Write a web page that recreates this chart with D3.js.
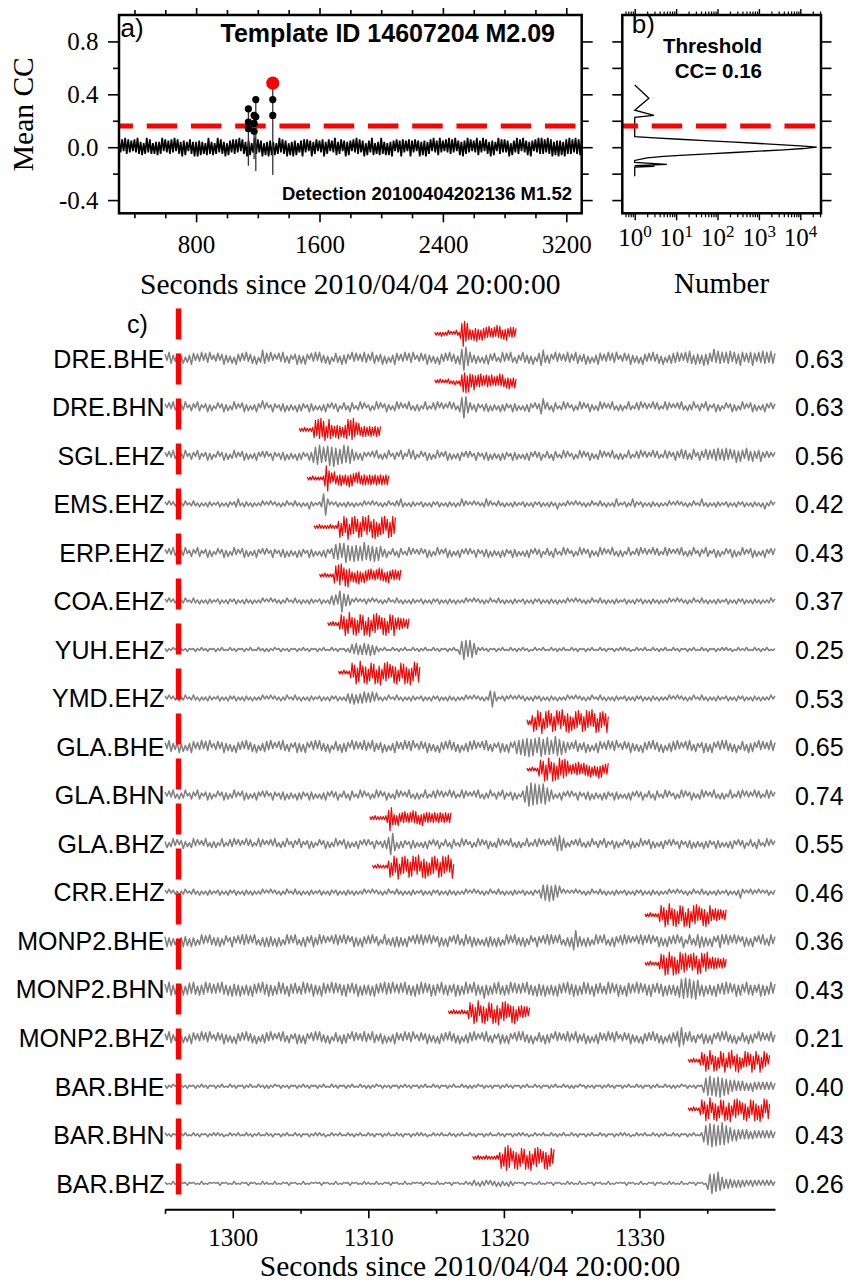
<!DOCTYPE html>
<html>
<head>
<meta charset="UTF-8">
<title>Template match detection</title>
<script src="https://d3js.org/d3.v7.min.js"></script>
<style>
  body { margin: 0; background: #fff; }
  .serif { font-family: "Liberation Serif", "Times New Roman", serif; }
  .sans { font-family: "Liberation Sans", Arial, sans-serif; }
</style>
</head>
<body>
<script>
// ---- panel a: mean CC through the hour (one amplitude digit per 10 s, sign alternates)
var ccStart = 300, ccStep = 10;
var ccNoise = ["5463756453647546357465354","6457364556473654756436547","4756453675463574654736546",
  "5647365475634756457364756","4635746557364756345764635","7456354674563547645635746",
  "5364756457365476354675463","6475364576453675463574657","4563745674536475647356475",
  "5746354765473654756437564","6457365475637456475364757","5647567465756476575647566","5"].join("");
var stemTime = [1139, 1176, 1187, 1297];
var stemHigh = [0.29, 0.24, 0.36, 0.485];
var stemLow = [-0.14, -0.09, -0.18, -0.21];
var dotTime = [1139, 1139, 1139, 1176, 1176, 1176, 1187, 1187, 1297, 1297];
var dotCC = [0.29, 0.19, 0.14, 0.24, 0.18, 0.12, 0.36, 0.23, 0.36, 0.24];
var detectTime = 1297, detectCC = 0.485;
var threshold = 0.16;
var xTicksA = [800, 1600, 2400, 3200];
var yTicksA = [-0.4, 0.0, 0.4, 0.8];

// ---- panel b: histogram of CC values
var histCC = [0.47, 0.37, 0.28, 0.24, 0.225, 0.08, 0.07, 0.06, 0.05, 0.04, 0.03, 0.02, 0.01, 0.0,
  -0.01, -0.02, -0.03, -0.04, -0.05, -0.06, -0.07, -0.08, -0.10, -0.115, -0.13, -0.14, -0.145, -0.15, -0.165, -0.22];
var histN = [1, 2.2, 1, 2.9, 1, 1, 3, 12, 50, 200, 800, 3000, 10000, 25000,
  12000, 4000, 1000, 250, 60, 16, 5, 2, 1, 1, 6, 1, 3, 1, 1, 1];
var logTicks = [1, 10, 100, 1000, 10000];

// ---- panel c: waveforms (gray 0.15 s per digit, red templates 0.1 s per digit)
var stations = ["DRE.BHE","DRE.BHN","SGL.EHZ","EMS.EHZ","ERP.EHZ","COA.EHZ","YUH.EHZ","YMD.EHZ",
  "GLA.BHE","GLA.BHN","GLA.BHZ","CRR.EHZ","MONP2.BHE","MONP2.BHN","MONP2.BHZ","BAR.BHE","BAR.BHN","BAR.BHZ"];
var stationCC = [0.63, 0.63, 0.56, 0.42, 0.43, 0.37, 0.25, 0.53, 0.65, 0.74, 0.55, 0.46, 0.36, 0.43, 0.21, 0.40, 0.43, 0.26];
var waveStart = 1295, waveStep = 0.15;
var detectLine = 1296;
var timeTicks = [1300, 1310, 1320, 1330];
var timeMinor = [1295, 1305, 1315, 1325, 1335];
var waves = [
  ["4265334625143652436254613","3524634251643526345261485","5362415364253146352641536","2643526135426354163524364",
   "4265334625143652436254613","3524634251643526345269cb7","6435241536425314635264153","2643526135784354163524364",
   "4265334625143652436254613","3524634251643526345261435","5463526475364537465394756","4657365476354675364756475","5"],
  ["3142531423512431542135241","2413524135231452413253162","4125312435142315243125341","3142531423512431542135241",
   "2413524135231452413253142","4125312435142315243159ba6","4325312435142315243125341","3142531423782431542135241",
   "2413524135231452413253142","4125312435142315243125341","3142531423512431542135241","2413524135231452413253142","3"],
  ["3142531423512431542135241","2413524135231452413253142","4125312435142315243125378","9a7869a8b7968a79865342531",
   "3142531423512431542163541","2413524135231452413253142","4125312435142315243125341","3142531423512431542135241",
   "2413524135231452413253142","4125312435142315243125341","3542635424613542645365746","5746357465375464356324231","3"],
  ["2131221312311232131213221","1231213212352132213121231","2131221312311232131215221","123ab51212312132213121231",
   "2131221312311232531213221","1231213212312132213125231","2131221352311232131213221","1231213212312132215121231",
   "2131221312311232131213521","1231253212312132213121231","2131221312311252131213221","1231213212312132213151231","2"],
  ["3142531423512431542135241","2413524135231452413253142","4125312435142315243125341","31425314687959a78697868a7",
   "7869586435124315421352413","2413524135231452413253142","4125312435142315243125341","3142531423512431542135241",
   "2413524135231452413253142","4125312435142315243125341","3142531423512431542135241","2413524135231452413253142","4"],
  ["2131221312311232131213221","1231213212312132213121231","2131221312311232131213221","12312135463ab756421312123",
   "2131221312311232131213221","1231213212312132213121231","2131221312311232131213221","1231213212312132213121231",
   "2131221312311232131213221","1231213212312132213121231","2131221312311232131213221","1231213212312132213121231","2"],
  ["1211201211121012112112101","2112101211210121121012112","1211201211121012112112101","2112101211210121354654565",
   "5645321121012112112101211","2112101211210121121058a97","9865212112101211210121121","1211201211121012112112101",
   "2112101211210121121012112","1211201211121012112112101","2112101211210121121012112","1211201211121012112112101","1"],
  ["2131221312311232131213221","1231213212312132213121231","2131221312311232131213221","1231213212312134546354564",
   "5463521312311232131213221","1231213212312132213121231","2131221312796311232131213","1231213212312132213121231",
   "2131221312311232131213221","1231213212312132213121231","2131221312311232131213221","1231213212312132213121231","2"],
  ["4265334625143652436254613","3524634251643526345261435","5362415364253146352641536","2643526135426354163524364",
   "4265334625143652436254613","3524634251643526345261435","5362415364253146352641576","8798a79869a789867a9785643",
   "4265334625143652436254613","3524634251643526345261435","5362415364253146352641536","2643526135426354163524364","4"],
  ["3142531423512431542135241","2413524135231452413253142","4125312435142315243125341","3142531423512431542135241",
   "2413524135231452413253142","4125312435142315243125341","3142531423512431542135241","2479bcab9a8b9765413253142",
   "4125312435142315243125341","3142531423512431542135241","2413524135231452413253142","4125312435142315243125341","3"],
  ["2413524135231452413253142","4125312435142315243125341","3142531423512431542135241","2413524135231452413253142",
   "4125312435" + "6ba7" + "15243125341","3142531423512431542135241","2413524135231452413253142","4125312435142315267875413",
   "3142531423512431542135241","2413524135231452413253142","4125312435142315243125341","3142531423512431542135241","3"],
  ["2131221312311232131213221","1231213212312132213121231","2131221312311232131213221","1231213212312132213121231",
   "2131221312311232131213221","1231213212312132213121231","2131221312311232131213221","1231213212678796875613121",
   "2131221312311232131213221","1231213212312132213121231","2131221312311232131213221","1231213263121322131212312","2"],
  ["4635241536452635146352643","5362451364253646352641536","3645263514635264153642563","4635241536452635146352643",
   "5362451364253646352641536","3645263514635264153642563","4635241536452635146352643","5362451364253646352641536",
   "39a6452635146352641536425","4635241536452635146352643","5362471364256746352641576","3645263514635264153642563","4"],
  ["5376453746356475364573645","4637546375647354637546375","5746357465375464357463574","5376453746356475364573645",
   "4637546375647354637546375","5746357465375464357463574","5376453946356475364573645","4637546375647354637546375",
   "5746357465375464357463574","5376453746356475364573645","4638a9b8a98a9647354637546","5746357465375464357463574","5"],
  ["4265334625143652436254613","3524634251643526345261435","5362415364253146352641536","2643526135426354163524364",
   "4265334625143652436254613","3524634251643526345261435","5362415364253146352641536","2643526135426354163524364",
   "4265334625143652436254613","3524634251643526345261435","5369a75364253146352641536","2643526135426354163524364","3"],
  ["1211201211121012112112101","2112101211210121121012112","1211201211121012112112101","2112101211210121121012112",
   "1211201211121012112112101","2112101211210121121012112","1211201211121012112112101","2112101211210121121012112",
   "1211201211121012112112101","2112101211210121121012112","121120121112101689a98a9b8","9786564545434354343434343","3"],
  ["2112101211210121121012112","1211201211121012112112101","2112101211210121121012112","1211201211121012112112101",
   "2112101211210121121012112","1211201211121012112112101","2112101211210121121012112","1211201211121012112112101",
   "2112101211210121121012112","1211201211121012112112101","21121012112101279abcab9ac","a987656545454344343434343","3"],
  ["1101210110121011012101101","0121011012101101210110121","1101210110121011012101101","0121011012101101210110121",
   "1101210110121011012101101","0121011012101101210110121","1232132231322313221322101","0121011012101101210110121",
   "1101210110121011012101101","0121011012101101210110121","110121011012101106" + "9a98b76","5454434343332333232323232","2"]
].map(function(b) { return b.join(""); });

var templateStart = [1314.9, 1314.9, 1304.9, 1305.5, 1306.0, 1306.4, 1307.0, 1307.8, 1321.7, 1321.7,
  1310.1, 1310.3, 1330.4, 1330.4, 1315.9, 1333.6, 1333.6, 1317.7];
var templateStep = 0.1;
var templates = [
  "1212131212312121321" + "5adc8a6" + "46375846375564735463847536475364635",
  "2121312121321213121" + "47a9b6a8" + "5786475846375647354638475364735463",
  "21213121213" + "7a5b8c69a47b85" + "6475846375" + "8b5a9c68" + "475364635463546354",
  "2121312121213" + "7dc8" + "46375364735463847536475364635463546354635463",
  "212131212121312121" + "6a48b59c37a6b48a59b3a7c46a8b5947a6b38a59b6a",
  "21213121212" + "7a5b9c48a6b7" + "54637584637556473546384753647536463546",
  "212131212" + "5a48b59c37a6b48a59b3a7c46a8b5947a6b38a59b" + "64756463546",
  "212131212" + "5a48b59c37a6b48a59b3a7c46a8b5947a6b38a59b6a4c58b3a96",
  "2313" + "6a48b59c37a6b48a59b3a7c46a8b5947a6b38a59b6a4c58b3a96a48b5",
  "212131212" + "6a49b5ac38b7a49c5a8b693" + "54637584637556473546384753647",
  "2121312121213" + "48cb6" + "4637536473546384753647536463546354635463546",
  "212131212121" + "6a48b59c37a6b48a59b3a7c46a8b5947a6b38a59b6a4c58b3",
  "21213121212" + "6a48b59c37a6b48a59b3a7c46a8b5947a6b38a5" + "64756463546",
  "21213121212" + "5a49b6ac38b7a49c5a8b693a6b48a59b3a7c4" + "6475646354635",
  "212131212131212" + "6a48b59c37a6b48a59b3a7c46a8b5947a6b38" + "647564635",
  "212131212" + "4947a58b36a5947a58b3697b45a7b4836a5947b58a36b47a5836",
  "212131212" + "5a48b59c37a6b48a59b3a7c46a8b5947a6b38a59b6a4c58b3a96",
  "21213121213121212131" + "6a48bcd9a37a6b48a59b3a7c46a8b5947a6b38a59"
];

var W = 851, H = 1287;
var svg = d3.select("body").append("svg")
    .attr("width", W).attr("height", H)
    .style("display", "block");
svg.append("rect").attr("width", W).attr("height", H).attr("fill", "#fff");

function digits(s) { return Array.from(s, function(c) { return parseInt(c, 36); }); }

// ================= panel a =================
var xA = d3.scaleLinear().domain([300, 3300]).range([119, 581.7]);
var yA = d3.scaleLinear().domain([-0.5, 1.0]).range([213.3, 15]);
var gA = svg.append("g");

gA.append("clipPath").attr("id", "clipA")
  .append("rect").attr("x", 119).attr("y", 15).attr("width", 462.7).attr("height", 198.3);

var ccPts = digits(ccNoise).map(function(d, i) {
  return { t: ccStart + i * ccStep, v: (i % 2 ? -1 : 1) * d / 100 };
});
gA.append("path")
  .attr("clip-path", "url(#clipA)")
  .attr("d", d3.line().x(function(d) { return xA(d.t); }).y(function(d) { return yA(d.v); })(ccPts))
  .attr("fill", "none").attr("stroke", "#000").attr("stroke-width", 1.7);

gA.selectAll(".stem").data(stemTime).enter().append("line")
  .attr("x1", function(d) { return xA(d); }).attr("x2", function(d) { return xA(d); })
  .attr("y1", function(d, i) { return yA(stemLow[i]); })
  .attr("y2", function(d, i) { return yA(stemHigh[i]); })
  .attr("stroke", "#333").attr("stroke-width", 1.3);

gA.append("line")
  .attr("x1", xA(300)).attr("x2", xA(3300)).attr("y1", yA(threshold)).attr("y2", yA(threshold))
  .attr("stroke", "#ff0000").attr("stroke-width", 5)
  .attr("stroke-dasharray", "30.5,13.75").attr("stroke-dashoffset", 16.55);

gA.selectAll(".dot").data(dotTime).enter().append("circle")
  .attr("cx", function(d) { return xA(d); })
  .attr("cy", function(d, i) { return yA(dotCC[i]); })
  .attr("r", 3.6).attr("fill", "#000");
gA.append("circle").attr("cx", xA(detectTime)).attr("cy", yA(detectCC)).attr("r", 6.6).attr("fill", "#ff0000");

function styleAxis(g, w) {
  g.select(".domain").remove();
  g.selectAll("line").attr("stroke", "#000").attr("stroke-width", w || 1.6);
}
var minorA = d3.range(400, 3300, 200).filter(function(d) { return xTicksA.indexOf(d) < 0; });

gA.append("g").attr("transform", "translate(0,213.3)")
  .call(d3.axisBottom(xA).tickValues(xTicksA).tickSize(9).tickFormat(function(d) { return d; }))
  .call(styleAxis)
  .selectAll("text").attr("dy", null).attr("y", 40)
  .attr("class", "serif").attr("font-family", null).style("font-size", "25px").attr("fill", "#000");
gA.append("g").attr("transform", "translate(0,213.3)")
  .call(d3.axisBottom(xA).tickValues(minorA).tickSize(5).tickFormat("")).call(styleAxis);
gA.append("g").attr("transform", "translate(0,15)")
  .call(d3.axisTop(xA).tickValues(xTicksA).tickSize(7).tickFormat("")).call(styleAxis);
gA.append("g").attr("transform", "translate(0,15)")
  .call(d3.axisTop(xA).tickValues(minorA).tickSize(5).tickFormat("")).call(styleAxis);

gA.append("g").attr("transform", "translate(119,0)")
  .call(d3.axisLeft(yA).tickValues(yTicksA).tickSize(11).tickFormat(function(d) { return d.toFixed(1); }))
  .call(styleAxis)
  .selectAll("text").attr("x", -20.5)
  .attr("font-family", null).attr("class", "serif").style("font-size", "25px").attr("fill", "#000");
gA.append("g").attr("transform", "translate(119,0)")
  .call(d3.axisLeft(yA).tickValues([-0.2, 0.2, 0.6]).tickSize(6).tickFormat("")).call(styleAxis);
gA.append("g").attr("transform", "translate(581.7,0)")
  .call(d3.axisRight(yA).tickValues(yTicksA).tickSize(11).tickFormat("")).call(styleAxis);
gA.append("g").attr("transform", "translate(581.7,0)")
  .call(d3.axisRight(yA).tickValues([-0.2, 0.2, 0.6]).tickSize(7).tickFormat("")).call(styleAxis);

gA.append("rect").attr("x", 119).attr("y", 15).attr("width", 462.7).attr("height", 198.3)
  .attr("fill", "none").attr("stroke", "#000").attr("stroke-width", 2.5);

gA.append("text").attr("class", "sans").attr("x", 120.5).attr("y", 37)
  .style("font-size", "26px").text("a)");
gA.append("text").attr("class", "sans").attr("x", 555).attr("y", 41.5)
  .attr("text-anchor", "end").style("font-size", "25px").style("font-weight", "bold")
  .text("Template ID 14607204 M2.09");
gA.append("text").attr("class", "sans").attr("x", 572).attr("y", 200)
  .attr("text-anchor", "end").style("font-size", "18.5px").style("font-weight", "bold")
  .text("Detection 20100404202136 M1.52");
gA.append("text").attr("class", "serif")
  .attr("transform", "translate(33.3,114.2) rotate(-90)")
  .attr("text-anchor", "middle").style("font-size", "29.5px").text("Mean CC");
gA.append("text").attr("class", "serif").attr("x", 350.3).attr("y", 294)
  .attr("text-anchor", "middle").style("font-size", "29.5px").text("Seconds since 2010/04/04 20:00:00");

// ================= panel b =================
var xB = d3.scaleLog().domain([Math.pow(10, -0.3), Math.pow(10, 4.5)]).range([622.3, 821]);
var yB = d3.scaleLinear().domain([-0.5, 1.0]).range([213.3, 15]);
var gB = svg.append("g");

var histPts = histCC.map(function(c, i) { return { cc: c, n: histN[i] }; });
gB.append("path")
  .attr("d", d3.line().x(function(d) { return xB(d.n); }).y(function(d) { return yB(d.cc); })(histPts))
  .attr("fill", "none").attr("stroke", "#000").attr("stroke-width", 1.3);

gB.append("line")
  .attr("x1", 622.3).attr("x2", 821).attr("y1", yB(threshold)).attr("y2", yB(threshold))
  .attr("stroke", "#ff0000").attr("stroke-width", 5)
  .attr("stroke-dasharray", "30.5,13.75").attr("stroke-dashoffset", 14.85);

var minorB = [];
[-1, 0, 1, 2, 3, 4].forEach(function(k) {
  for (var m = 2; m <= 9; m++) {
    var v = m * Math.pow(10, k);
    if (v >= xB.domain()[0] && v <= xB.domain()[1]) minorB.push(v);
  }
});
gB.append("g").attr("transform", "translate(0,213.3)")
  .call(d3.axisBottom(xB).tickValues(logTicks).tickSize(7).tickFormat("")).call(styleAxis, 1.4);
gB.append("g").attr("transform", "translate(0,213.3)")
  .call(d3.axisBottom(xB).tickValues(minorB).tickSize(4).tickFormat("")).call(styleAxis, 1.2);
gB.append("g").attr("transform", "translate(0,15)")
  .call(d3.axisTop(xB).tickValues(logTicks).tickSize(6).tickFormat("")).call(styleAxis, 1.4);
gB.append("g").attr("transform", "translate(0,15)")
  .call(d3.axisTop(xB).tickValues(minorB).tickSize(3.5).tickFormat("")).call(styleAxis, 1.2);
var yTicksB = [-0.4, -0.2, 0, 0.2, 0.4, 0.6, 0.8];
gB.append("g").attr("transform", "translate(622.3,0)")
  .call(d3.axisLeft(yB).tickValues(yTicksB).tickSize(10).tickFormat("")).call(styleAxis);
gB.append("g").attr("transform", "translate(821,0)")
  .call(d3.axisRight(yB).tickValues(yTicksB).tickSize(10.5).tickFormat("")).call(styleAxis);

gB.append("rect").attr("x", 622.3).attr("y", 15).attr("width", 198.7).attr("height", 198.3)
  .attr("fill", "none").attr("stroke", "#000").attr("stroke-width", 2.5);

var powLab = gB.selectAll(".pl").data(logTicks).enter().append("text")
  .attr("class", "serif").attr("x", function(d) { return xB(d) - 16.5; }).attr("y", 246)
  .style("font-size", "25px");
powLab.append("tspan").text("10");
powLab.append("tspan").attr("dy", -9).style("font-size", "17px")
  .text(function(d) { return Math.round(Math.log10(d)); });

gB.append("text").attr("class", "sans").attr("x", 631.7).attr("y", 33)
  .style("font-size", "26px").text("b)");
gB.append("text").attr("class", "sans").attr("x", 762).attr("y", 53)
  .attr("text-anchor", "end").style("font-size", "20.5px").style("font-weight", "bold").text("Threshold");
gB.append("text").attr("class", "sans").attr("x", 762).attr("y", 78)
  .attr("text-anchor", "end").style("font-size", "20.5px").style("font-weight", "bold").text("CC= " + threshold.toFixed(2));
gB.append("text").attr("class", "serif").attr("x", 721.6).attr("y", 293)
  .attr("text-anchor", "middle").style("font-size", "29px").text("Number");

// ================= panel c =================
var xC = d3.scaleLinear().domain([1295, 1340]).range([165, 775]);
var rowY = d3.scalePoint().domain(stations).range([358.3, 1183.3]);
var amp = d3.scaleLinear().domain([-10, 10]).range([10, -10]);
var gC = svg.append("g");

var waveLine = d3.line().x(function(d) { return xC(d.t); }).y(function(d) { return d.y; });

stations.forEach(function(st, k) {
  var y0 = rowY(st);
  var gray = digits(waves[k]).map(function(a, i) {
    return { t: waveStart + i * waveStep, y: y0 + amp((i % 2 ? -1 : 1) * a) };
  });
  gC.append("path").attr("d", waveLine(gray))
    .attr("fill", "none").attr("stroke", "#808080").attr("stroke-width", 1.5)
    .attr("stroke-linejoin", "round");

  var yr = y0 - 25;
  var red = digits(templates[k]).map(function(a, i) {
    return { t: templateStart[k] + i * templateStep, y: yr + amp((i % 2 ? -1 : 1) * a) };
  });
  gC.append("path").attr("d", waveLine(red))
    .attr("fill", "none").attr("stroke", "#ff0000").attr("stroke-width", 1.2)
    .attr("stroke-linejoin", "round");

  gC.append("text").attr("class", "sans").attr("x", 164.5).attr("y", y0 + 9.3)
    .attr("text-anchor", "end").style("font-size", "25px").text(st);
  gC.append("text").attr("class", "sans").attr("x", 795).attr("y", y0 + 9.5)
    .style("font-size", "25px").text(stationCC[k].toFixed(2));
});

gC.append("line")
  .attr("x1", xC(detectLine)).attr("x2", xC(detectLine)).attr("y1", 308.5).attr("y2", 1207)
  .attr("stroke", "#ff0000").attr("stroke-width", 5.5).attr("stroke-dasharray", "31,14");

var axC = gC.append("g").attr("transform", "translate(0,1209.3)")
  .call(d3.axisBottom(xC).tickValues(timeTicks).tickSize(9).tickSizeOuter(0).tickFormat(function(d) { return d; }));
axC.select(".domain").attr("stroke", "#000").attr("stroke-width", 2);
axC.selectAll("line").attr("stroke", "#000").attr("stroke-width", 1.6);
axC.selectAll("text").attr("dy", null).attr("y", 36.7)
  .attr("font-family", null).attr("class", "serif").style("font-size", "25px").attr("fill", "#000");
gC.append("g").attr("transform", "translate(0,1209.3)")
  .call(d3.axisBottom(xC).tickValues(timeMinor).tickSize(4.5).tickFormat("")).call(styleAxis);

gC.append("text").attr("class", "sans").attr("x", 127).attr("y", 333)
  .style("font-size", "25px").text("c)");
gC.append("text").attr("class", "serif").attr("x", 470).attr("y", 1276)
  .attr("text-anchor", "middle").style("font-size", "29.5px").text("Seconds since 2010/04/04 20:00:00");
</script>
</body>
</html>
